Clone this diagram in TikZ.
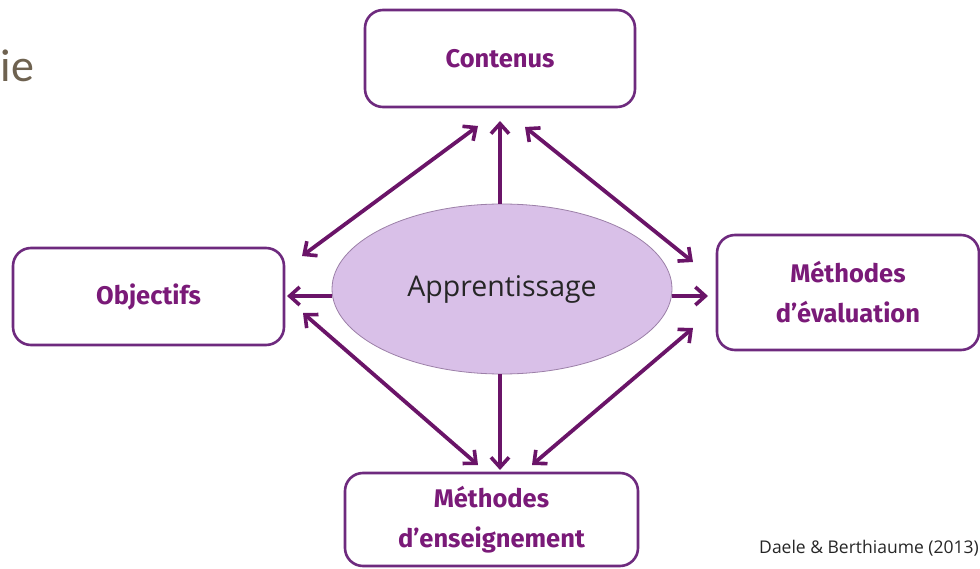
\documentclass[tikz,border=0pt]{standalone}
\usepackage{fontspec}
\usetikzlibrary{shapes.geometric,arrows.meta}
\newfontfamily\boxfont{Fira Sans}
\newfontfamily\ellfont{Open Sans}
\newfontfamily\titlefont{Carlito}
\definecolor{boxline}{HTML}{6E2A7E}
\definecolor{boxtext}{HTML}{7A1A78}
\definecolor{arrowcol}{HTML}{6A1468}
\definecolor{ellfill}{HTML}{D9C0E8}
\definecolor{ellline}{HTML}{9C80A8}
\definecolor{titlecol}{HTML}{6E6250}
\tikzset{
  boxnode/.style={draw=boxline, line width=2.6pt, rounded corners=18pt, fill=white,
    align=center, inner sep=0pt, font=\boxfont\bfseries\fontsize{25.5}{40}\selectfont, text=boxtext},
  tipA/.tip={Straight Barb[length=10pt,width=18pt,line width=3.6pt]},
  conn/.style={draw=arrowcol, line width=3.8pt, -tipA},
  conn2/.style={draw=arrowcol, line width=3.8pt, tipA-tipA}
}
\begin{document}
\begin{tikzpicture}[x=1pt,y=-1pt]
\useasboundingbox (0,0) rectangle (980,569);
\node[anchor=base west, inner sep=0pt, font=\titlefont\fontsize{46}{46}\selectfont, text=titlecol] (title) at (0.5,82) {ie};
\node[boxnode, minimum width=270pt, minimum height=97pt] (cont) at (500,58.5) {Contenus};
\node[boxnode, minimum width=271pt, minimum height=97pt] (obj) at (148.5,296.5) {Objectifs};
\node[boxnode, minimum width=262pt, minimum height=115pt] (eval) at (848,292.5) {Méthodes\\d’évaluation};
\node[boxnode, minimum width=293pt, minimum height=93pt] (ens) at (491.5,519.5) {Méthodes\\d’enseignement};
\node[ellipse, draw=ellline, line width=0.8pt, fill=ellfill, minimum width=340pt, minimum height=170pt, inner sep=0pt,
  font=\ellfont\fontsize{28.5}{28.5}\selectfont, text=black!85] (app) at (502,289) {Apprentissage};
\node[anchor=base east, inner sep=0pt, font=\ellfont\fontsize{17.5}{17.5}\selectfont, text=black!85] (credit) at (979,553) {Daele \& Berthiaume (2013)};
% endpoints
\coordinate (pUp) at (500,121);
\coordinate (pTLa) at (302,256);
\coordinate (pTLb) at (478,126);
\coordinate (pTRa) at (525,127);
\coordinate (pTRb) at (693,262);
\coordinate (pL) at (287,296);
\coordinate (pR) at (708,296);
\coordinate (pBLa) at (303,313);
\coordinate (pBLb) at (478,465);
\coordinate (pBRa) at (532,465);
\coordinate (pBRb) at (693,328);
\coordinate (pDn) at (500,470);
\draw[conn] (app.north -| pUp) -- (pUp);
\draw[conn] (app.west |- pL) -- (pL);
\draw[conn] (app.east |- pR) -- (pR);
\draw[conn] (app.south -| pDn) -- (pDn);
\draw[conn2] (pTLa) -- (pTLb);
\draw[conn2] (pTRa) -- (pTRb);
\draw[conn2] (pBLa) -- (pBLb);
\draw[conn2] (pBRa) -- (pBRb);
\end{tikzpicture}
\end{document}
